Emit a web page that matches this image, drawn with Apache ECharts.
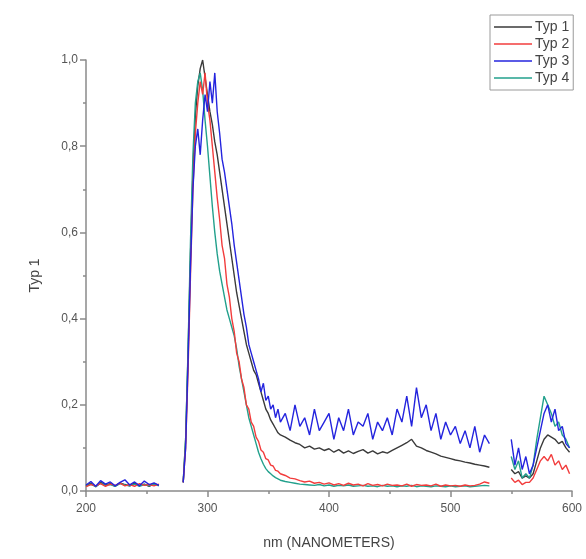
<!DOCTYPE html>
<html>
<head>
<meta charset="utf-8">
<script src="https://cdn.jsdelivr.net/npm/echarts@6/dist/echarts.min.js"></script>
<style>
html,body{margin:0;padding:0;background:#fff;}
#chart{width:586px;height:559px;}
</style>
</head>
<body>
<div id="chart"></div>
<script>
// wavelength (nm); 270 and 542 are gap markers (no data)
var wavelengths = [
  200,204,208,212,216,220,224,228,232,236,240,244,248,252,256,260,
  270,
  280,282,284,286,288,290,292,294,296,298,300,302,304,306,308,310,312,314,316,318,320,
  322,324,326,328,330,332,334,336,338,340,342,344,346,348,350,352,354,356,358,360,
  364,368,372,376,380,384,388,392,396,400,404,408,412,416,420,424,428,432,436,440,444,
  448,452,456,460,464,468,472,476,480,484,488,492,496,500,504,508,512,516,520,524,528,532,
  542,
  550,553,556,559,562,565,568,571,574,577,580,583,586,589,592,595,598
];

var typ1 = [
  0.012,0.018,0.01,0.02,0.014,0.017,0.011,0.019,0.015,0.012,0.018,0.013,0.016,0.011,0.017,0.013,
  null,
  0.02,0.12,0.32,0.55,0.74,0.87,0.94,0.98,1.0,0.96,0.92,0.88,0.85,0.81,0.78,0.74,0.7,0.66,0.62,0.58,0.54,
  0.5,0.46,0.43,0.4,0.37,0.34,0.32,0.3,0.28,0.27,0.25,0.23,0.21,0.19,0.18,0.165,0.155,0.145,0.135,0.13,
  0.125,0.118,0.112,0.108,0.1,0.104,0.097,0.1,0.094,0.098,0.09,0.096,0.088,0.093,0.087,0.092,0.096,0.088,0.093,0.086,0.091,
  0.088,0.094,0.1,0.106,0.112,0.12,0.104,0.1,0.094,0.09,0.086,0.081,0.078,0.075,0.072,0.07,0.067,0.065,0.062,0.06,0.058,0.055,
  null,
  0.05,0.04,0.045,0.03,0.035,0.03,0.04,0.07,0.1,0.12,0.13,0.125,0.12,0.11,0.115,0.1,0.09
];

var typ2 = [
  0.01,0.015,0.012,0.017,0.011,0.016,0.013,0.018,0.012,0.015,0.011,0.017,0.013,0.015,0.012,0.016,
  null,
  0.02,0.1,0.28,0.5,0.7,0.83,0.9,0.95,0.92,0.97,0.9,0.86,0.8,0.74,0.68,0.63,0.57,0.54,0.48,0.45,0.4,
  0.37,0.32,0.3,0.26,0.24,0.2,0.19,0.16,0.15,0.125,0.115,0.095,0.09,0.075,0.072,0.06,0.058,0.048,0.046,0.04,
  0.036,0.03,0.028,0.024,0.021,0.023,0.018,0.02,0.016,0.019,0.014,0.017,0.013,0.018,0.014,0.016,0.012,0.017,0.013,0.015,0.012,
  0.016,0.013,0.014,0.012,0.016,0.011,0.015,0.013,0.014,0.012,0.016,0.011,0.014,0.012,0.013,0.011,0.014,0.012,0.013,0.016,0.021,0.018,
  null,
  0.03,0.02,0.025,0.015,0.02,0.02,0.03,0.05,0.07,0.08,0.07,0.085,0.06,0.07,0.05,0.06,0.04
];

var typ3 = [
  0.014,0.022,0.011,0.024,0.016,0.021,0.012,0.02,0.026,0.014,0.021,0.012,0.023,0.015,0.019,0.013,
  null,
  0.02,0.1,0.3,0.52,0.7,0.8,0.84,0.78,0.86,0.92,0.88,0.95,0.9,0.97,0.88,0.83,0.77,0.74,0.7,0.66,0.62,
  0.57,0.53,0.49,0.45,0.41,0.38,0.34,0.32,0.3,0.28,0.26,0.23,0.25,0.21,0.22,0.19,0.2,0.17,0.19,0.16,
  0.18,0.14,0.2,0.15,0.17,0.13,0.19,0.14,0.16,0.18,0.12,0.17,0.14,0.19,0.13,0.16,0.15,0.18,0.12,0.16,0.14,
  0.17,0.13,0.19,0.16,0.22,0.15,0.24,0.17,0.2,0.14,0.18,0.12,0.16,0.13,0.15,0.11,0.14,0.1,0.15,0.09,0.13,0.11,
  null,
  0.12,0.06,0.1,0.05,0.08,0.04,0.06,0.1,0.14,0.18,0.2,0.16,0.19,0.14,0.15,0.11,0.1
];

var typ4 = [
  0.011,0.016,0.01,0.018,0.013,0.015,0.011,0.017,0.014,0.012,0.016,0.011,0.015,0.012,0.016,0.012,
  null,
  0.02,0.12,0.33,0.58,0.78,0.9,0.95,0.97,0.93,0.86,0.8,0.73,0.66,0.6,0.55,0.51,0.48,0.45,0.42,0.4,0.38,
  0.36,0.33,0.29,0.26,0.23,0.2,0.17,0.15,0.13,0.11,0.09,0.075,0.062,0.052,0.045,0.04,0.035,0.031,0.028,0.025,
  0.022,0.02,0.018,0.016,0.015,0.014,0.013,0.015,0.012,0.014,0.011,0.013,0.012,0.014,0.011,0.012,0.013,0.011,0.012,0.01,0.013,
  0.011,0.012,0.01,0.012,0.011,0.013,0.01,0.012,0.011,0.01,0.012,0.011,0.01,0.012,0.01,0.011,0.012,0.01,0.011,0.012,0.013,0.012,
  null,
  0.08,0.05,0.07,0.03,0.04,0.03,0.06,0.12,0.17,0.22,0.2,0.18,0.15,0.16,0.13,0.12,0.1
];

var seriesNames = ['Typ 1','Typ 2','Typ 3','Typ 4'];
var seriesColors = ['#3a3a3a','#f23c3c','#2424de','#22a08c'];
var xTicks = [200,300,400,500,600];
var yTicks = [0,0.2,0.4,0.6,0.8,1.0];

function pairs(ys){
  return wavelengths.map(function(x,i){ return [x, ys[i] === null ? '-' : ys[i]]; });
}

var FONT = "'Liberation Sans Narrow','Liberation Sans',Arial,sans-serif";
var chart = echarts.init(document.getElementById('chart'), null, {renderer:'canvas'});

function mk(idx, ys, z){
  return {
    name: seriesNames[idx], type:'line', data: pairs(ys), symbol:'none', showSymbol:false,
    connectNulls:false, z: z, animation:false,
    lineStyle:{color: seriesColors[idx], width:1.4},
    itemStyle:{color: seriesColors[idx]}
  };
}

chart.setOption({
  animation:false,
  backgroundColor:'#ffffff',
  grid:{left:86, right:14, top:60, bottom:68, containLabel:false},
  legend:{
    data: seriesNames, orient:'vertical', left:490, top:15,
    icon:'rect', itemWidth:38, itemHeight:1.5, itemGap:3,
    borderColor:'#9a9a9a', borderWidth:1, padding:[5,4,5,4],
    backgroundColor:'#fff',
    textStyle:{fontFamily:FONT, fontSize:14, color:'#444', padding:[0,0,0,-2], height:12, lineHeight:12}
  },
  xAxis:{
    type:'value', min:xTicks[0], max:xTicks[xTicks.length-1], interval:100,
    name:'nm (NANOMETERS)', nameLocation:'middle', nameGap:45,
    nameTextStyle:{fontFamily:FONT, fontSize:14, color:'#444'},
    axisLine:{show:true, lineStyle:{color:'#8a8a8a', width:1.5}},
    axisTick:{show:true, inside:false, length:6, lineStyle:{color:'#8a8a8a', width:1.5}},
    minorTick:{show:true, splitNumber:2, length:3, lineStyle:{color:'#8a8a8a', width:1.5}},
    splitLine:{show:false},
    axisLabel:{fontFamily:FONT, fontSize:12, color:'#555', margin:12}
  },
  yAxis:{
    type:'value', min:0, max:1, interval:0.2,
    name:'Typ 1', nameLocation:'middle', nameGap:44, nameRotate:90,
    nameTextStyle:{fontFamily:FONT, fontSize:14, color:'#444'},
    axisLine:{show:true, lineStyle:{color:'#8a8a8a', width:1.5}},
    axisTick:{show:true, inside:false, length:6, lineStyle:{color:'#8a8a8a', width:1.5}},
    minorTick:{show:true, splitNumber:2, length:3, lineStyle:{color:'#8a8a8a', width:1.5}},
    splitLine:{show:false},
    axisLabel:{fontFamily:FONT, fontSize:12, color:'#555', margin:8,
      formatter:function(v){ return v.toFixed(1).replace('.', ','); }}
  },
  series:[ mk(0, typ1, 2), mk(3, typ4, 3), mk(1, typ2, 4), mk(2, typ3, 5) ]
});
</script>
</body>
</html>
